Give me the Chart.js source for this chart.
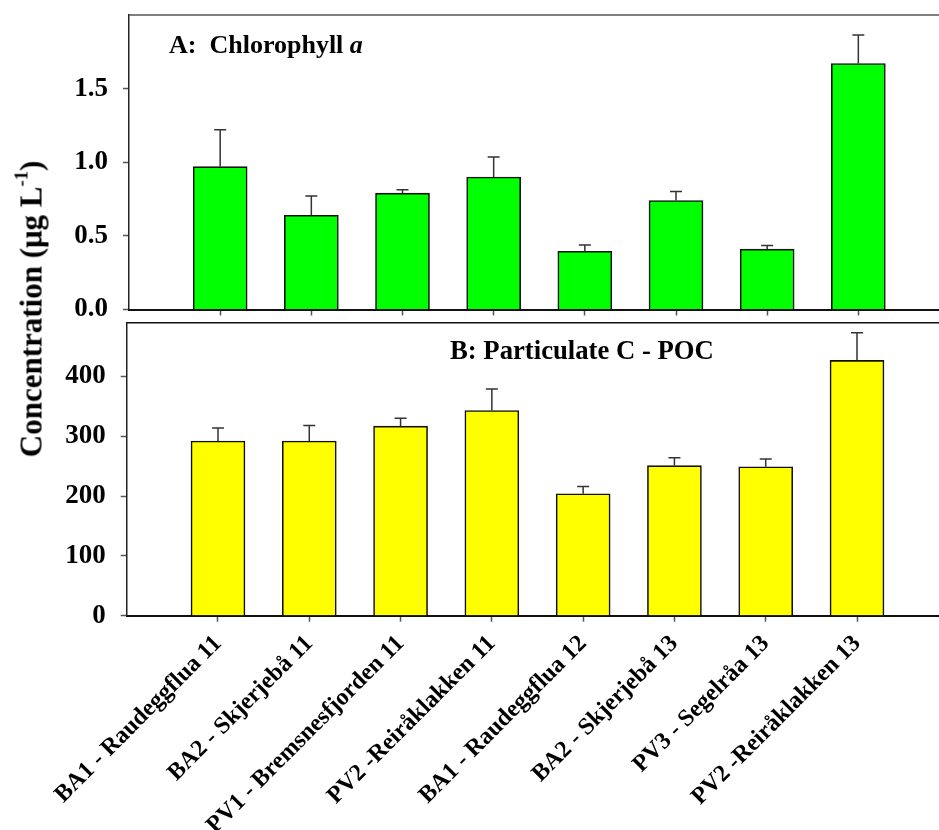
<!DOCTYPE html>
<html>
<head>
<meta charset="utf-8">
<script src="https://cdn.jsdelivr.net/npm/chart.js@4/dist/chart.umd.min.js"></script>
<style>
  html, body { margin: 0; padding: 0; background: #fff; }
  body { width: 939px; height: 830px; overflow: hidden; position: relative; }
  canvas { position: absolute; left: 0; }
  .txt { position: absolute; font-family: "Liberation Serif", "Times New Roman", serif; font-weight: bold; color: #000; white-space: nowrap; line-height: 1; }
</style>
</head>
<body>
<canvas id="chl" width="960" height="320" style="top:0"></canvas>
<canvas id="poc" width="960" height="514" style="top:316px"></canvas>
<div class="txt" style="left:169px; top:31.5px; font-size:26px;">A:&nbsp; Chlorophyll <i>a</i></div>
<div class="txt" style="left:450px; top:337px; font-size:26.7px;">B: Particulate C - POC</div>
<div class="txt" style="left:31px; top:309px; font-size:31px; transform: translate(-50%, -50%) rotate(-90deg);">Concentration (μg L<sup style="font-size:0.6em; vertical-align: 0.75em; line-height:0">-1</sup>)</div>
<script>
// Sampling stations
const categories = [
  "BA1 - Raudeggflua 11",
  "BA2 - Skjerjebå 11",
  "PV1 - Bremsnesfjorden 11",
  "PV2 -Reiråklakken 11",
  "BA1 - Raudeggflua 12",
  "BA2 - Skjerjebå 13",
  "PV3 - Segelråa 13",
  "PV2 -Reiråklakken 13"
];

// Chlorophyll a (µg/L): mean and upper standard error
const chlValues = [0.97, 0.64, 0.79, 0.90, 0.395, 0.74, 0.41, 1.67];
const chlErrors = [0.25, 0.13, 0.023, 0.135, 0.043, 0.061, 0.025, 0.194];

// Particulate organic carbon (µg/L)
const pocValues = [292, 292, 317, 343, 204, 251, 249, 427];
const pocErrors = [22, 26, 13, 36, 12, 13, 13, 46];

// Y-axis tick labels
const chlTicks = [0, 0.5, 1.0, 1.5];
const pocTicks = [0, 100, 200, 300, 400];

const FONT = '"Liberation Serif", "Times New Roman", serif';

// Upper error whiskers drawn through the chart's own scales
const errorBars = {
  id: 'errorBars',
  afterDatasetsDraw(chart, args, opts) {
    const { ctx, scales: { x, y } } = chart;
    const vals = opts.values, errs = opts.errors;
    ctx.save();
    ctx.strokeStyle = '#333';
    ctx.lineWidth = 1.5;
    vals.forEach((v, i) => {
      const px = x.getPixelForValue(i);
      const y0 = y.getPixelForValue(v);
      const y1 = y.getPixelForValue(v + errs[i]);
      ctx.beginPath();
      ctx.moveTo(px, y0);
      ctx.lineTo(px, y1);
      ctx.moveTo(px - 6, y1);
      ctx.lineTo(px + 6, y1);
      ctx.stroke();
    });
    ctx.restore();
  }
};

// Frame line along the top of the plot area
const topFrame = {
  id: 'topFrame',
  afterDraw(chart, args, opts) {
    const { ctx, chartArea: a } = chart;
    ctx.save();
    ctx.strokeStyle = opts.color;
    ctx.lineWidth = 1.5;
    ctx.beginPath();
    ctx.moveTo(a.left, a.top);
    ctx.lineTo(a.right, a.top);
    ctx.stroke();
    ctx.restore();
  }
};

function panel(canvasId, values, errors, yTicks, yMax, color, opts) {
  return new Chart(document.getElementById(canvasId), {
    type: 'bar',
    data: {
      datasets: [{
        data: values.map((v, i) => ({ x: i, y: v })),
        backgroundColor: color,
        borderColor: '#111',
        borderWidth: 1.6,
        borderSkipped: 'bottom',
        barThickness: 54
      }]
    },
    options: {
      responsive: false,
      animation: false,
      events: [],
      layout: { padding: { top: opts.padTop, right: opts.padRight, left: 0, bottom: 0 } },
      plugins: {
        legend: { display: false },
        tooltip: { enabled: false },
        errorBars: { values, errors },
        topFrame: { color: opts.frameColor }
      },
      scales: {
        x: {
          type: 'linear',
          min: -1,
          max: 8,
          offset: false,
          afterBuildTicks: s => { s.ticks = categories.map((c, i) => ({ value: i })); },
          afterFit: s => { s.height = opts.xHeight; s.paddingLeft = 0; s.paddingRight = 0; },
          border: { display: true, color: '#111', width: 2 },
          grid: { offset: false, drawOnChartArea: false, drawTicks: true, tickLength: 6, tickColor: '#555', tickWidth: 1.5 },
          ticks: {
            display: opts.showLabels,
            autoSkip: false,
            minRotation: 45,
            maxRotation: 45,
            padding: 8,
            color: '#000',
            font: { family: FONT, size: 24, weight: 'bold' },
            callback: v => categories[v]
          }
        },
        y: {
          min: 0,
          max: yMax,
          afterBuildTicks: s => { s.ticks = yTicks.map(v => ({ value: v })); },
          afterFit: s => { s.width = opts.yWidth; s.paddingTop = 0; s.paddingBottom = 0; },
          border: { display: true, color: '#222', width: 1.5 },
          grid: { drawOnChartArea: false, drawTicks: true, tickLength: 6, tickColor: '#555', tickWidth: 1.5 },
          ticks: {
            padding: 15,
            color: '#000',
            font: { family: FONT, size: 27, weight: 'bold' },
            callback: v => opts.decimals ? Number(v).toFixed(opts.decimals) : String(v)
          }
        }
      }
    },
    plugins: [errorBars, topFrame]
  });
}

panel('chl', chlValues, chlErrors, chlTicks, 2.0, '#00ff00', {
  padTop: 15, padRight: 10.5, xHeight: 10.5, yWidth: 129, decimals: 1, showLabels: false, frameColor: '#555'
});
panel('poc', pocValues, pocErrors, pocTicks, 490, '#ffff00', {
  padTop: 6.7, padRight: 11.7, xHeight: 214.3, yWidth: 126.7, decimals: 0, showLabels: true, frameColor: '#111'
});
</script>
</body>
</html>
